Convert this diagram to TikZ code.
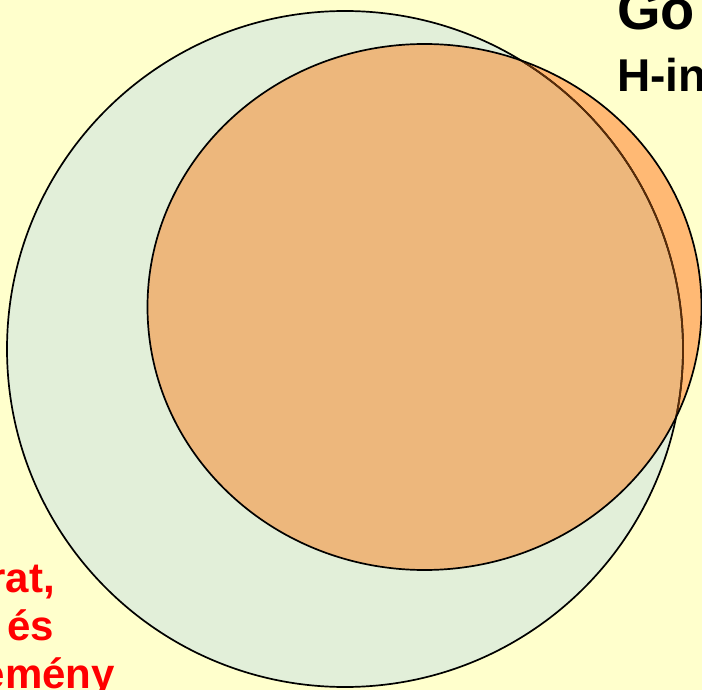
\documentclass[tikz,border=0pt]{standalone}
\usepackage{fontspec}
\setmainfont{Liberation Sans}
\definecolor{paper}{HTML}{FFFFCC}
\definecolor{leaf}{HTML}{E2EFD9}
\definecolor{peach}{HTML}{FFB974}
\definecolor{peachdim}{HTML}{EDB77C}
\definecolor{rim}{HTML}{5A2C08}
\begin{document}
\begin{tikzpicture}[x=1pt,y=-1pt,
	outline/.style={line width=1.7pt},
	bigtitle/.style={font=\fontsize{56}{60}\selectfont\bfseries,inner sep=0pt},
	subtitle/.style={font=\fontsize{46}{50}\selectfont\bfseries,inner sep=0pt},
	redword/.style={text=red,font=\fontsize{42}{48}\selectfont\bfseries,inner sep=0pt}]
			\useasboundingbox[fill=paper] (0,0) rectangle (702,690);
			% the two sets
			\fill[leaf] (345,349) circle[radius=338];
			\fill[peach] (424.5,307) ellipse[x radius=277,y radius=263];
			\begin{scope}
				\clip (345,349) circle[radius=338];
				\fill[peachdim] (424.5,307) ellipse[x radius=277,y radius=263];
			\end{scope}
			\draw[outline] (345,349) circle[radius=338];
			\begin{scope}
				\clip (424.5,307) ellipse[x radius=277,y radius=263];
				\draw[outline,rim] (345,349) circle[radius=338];
			\end{scope}
			\draw[outline] (424.5,307) ellipse[x radius=277,y radius=263];
			% texts
			\node[bigtitle,anchor=base west] (title) at (617,30) {Go};
			\node[subtitle,anchor=base west] (sub) at (617,92) {H-in};
			\node[redword,anchor=base east] (w1) at (55,592) {rat,};
			\node[redword,anchor=base east] (w2) at (54,640) {és};
			\node[redword,anchor=base east] (w3) at (115,688) {emény};
\end{tikzpicture}
\end{document}
